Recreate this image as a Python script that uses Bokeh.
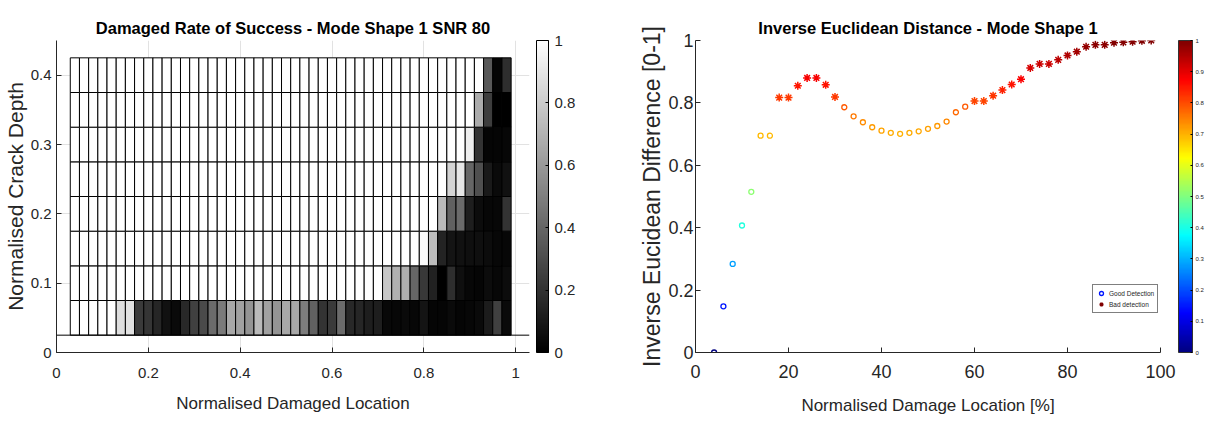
from bokeh.plotting import figure
from bokeh.layouts import row
from bokeh.models import (ColumnDataSource, LinearColorMapper, ColorBar, FixedTicker,
                          CustomJSTickFormatter, Span, Legend, LegendItem, Range1d)
from bokeh.transform import transform
from bokeh.palettes import Greys256
from bokeh.embed import file_html
from bokeh.resources import INLINE

FONT = "Liberation Sans"
AX = "#262626"

# ---------------- Left chart data: damaged rate of success ----------------
locations = [0.04, 0.06, 0.08, 0.10, 0.12, 0.14, 0.16, 0.18, 0.20, 0.22, 0.24, 0.26,
             0.28, 0.30, 0.32, 0.34, 0.36, 0.38, 0.40, 0.42, 0.44, 0.46, 0.48, 0.50,
             0.52, 0.54, 0.56, 0.58, 0.60, 0.62, 0.64, 0.66, 0.68, 0.70, 0.72, 0.74,
             0.76, 0.78, 0.80, 0.82, 0.84, 0.86, 0.88, 0.90, 0.92, 0.94, 0.96, 0.98]
depths = [0.05, 0.10, 0.15, 0.20, 0.25, 0.30, 0.35, 0.40]

rate_depth_005 = [1, 1, 1, 1, 1, 0.87, 0.88, 0.23, 0.21, 0.15, 0.07, 0.04,
                  0.16, 0.25, 0.29, 0.42, 0.48, 0.66, 0.63, 0.58, 0.73, 0.63, 0.58, 0.66,
                  0.66, 0.49, 0.38, 0.20, 0.23, 0.42, 0.16, 0.15, 0.12, 0.12, 0.035, 0.03,
                  0.04, 0.03, 0.08, 0.02, 0.02, 0.04, 0.02, 0.03, 0.04, 0.11, 0.25, 0.04]
rate_depth_010 = [1, 1, 1, 1, 1, 1, 1, 1, 1, 1, 1, 1,
                  1, 1, 1, 1, 1, 1, 1, 1, 1, 1, 1, 1,
                  1, 1, 1, 1, 1, 1, 1, 1, 1, 1, 0.78, 0.69,
                  0.68, 0.40, 0.22, 0.13, 0.0, 0.18, 0.06, 0.03, 0.02, 0.05, 0.03, 0.05]
rate_depth_015 = [1, 1, 1, 1, 1, 1, 1, 1, 1, 1, 1, 1,
                  1, 1, 1, 1, 1, 1, 1, 1, 1, 1, 1, 1,
                  1, 1, 1, 1, 1, 1, 1, 1, 1, 1, 1, 1,
                  1, 1, 0.98, 0.74, 0.14, 0.08, 0.07, 0.06, 0.06, 0.05, 0.03, 0.03]
rate_depth_020 = [1, 1, 1, 1, 1, 1, 1, 1, 1, 1, 1, 1,
                  1, 1, 1, 1, 1, 1, 1, 1, 1, 1, 1, 1,
                  1, 1, 1, 1, 1, 1, 1, 1, 1, 1, 1, 1,
                  1, 1, 1, 1, 0.73, 0.38, 0.42, 0.12, 0.05, 0.03, 0.03, 0.20]
rate_depth_025 = [1, 1, 1, 1, 1, 1, 1, 1, 1, 1, 1, 1,
                  1, 1, 1, 1, 1, 1, 1, 1, 1, 1, 1, 1,
                  1, 1, 1, 1, 1, 1, 1, 1, 1, 1, 1, 1,
                  1, 1, 1, 1, 1, 0.83, 0.90, 0.40, 0.31, 0.10, 0.04, 0.07]
rate_depth_030 = [1, 1, 1, 1, 1, 1, 1, 1, 1, 1, 1, 1,
                  1, 1, 1, 1, 1, 1, 1, 1, 1, 1, 1, 1,
                  1, 1, 1, 1, 1, 1, 1, 1, 1, 1, 1, 1,
                  1, 1, 1, 1, 1, 1, 1, 0.93, 0.20, 0.02, 0.02, 0.03]
rate_depth_035 = [1, 1, 1, 1, 1, 1, 1, 1, 1, 1, 1, 1,
                  1, 1, 1, 1, 1, 1, 1, 1, 1, 1, 1, 1,
                  1, 1, 1, 1, 1, 1, 1, 1, 1, 1, 1, 1,
                  1, 1, 1, 1, 1, 1, 1, 1, 0.67, 0.24, 0.0, 0.0]
rate_depth_040 = [1, 1, 1, 1, 1, 1, 1, 1, 1, 1, 1, 1,
                  1, 1, 1, 1, 1, 1, 1, 1, 1, 1, 1, 1,
                  1, 1, 1, 1, 1, 1, 1, 1, 1, 1, 1, 1,
                  1, 1, 1, 1, 1, 1, 1, 1, 1, 0.35, 0.02, 0.18]
rate_rows = [rate_depth_005, rate_depth_010, rate_depth_015, rate_depth_020,
             rate_depth_025, rate_depth_030, rate_depth_035, rate_depth_040]

left_xticks = [0, 0.2, 0.4, 0.6, 0.8, 1]
left_yticks = [0, 0.1, 0.2, 0.3, 0.4]
left_cticks = [0, 0.2, 0.4, 0.6, 0.8, 1]

# ---------------- Right chart data: inverse Euclidean distance ----------------
damage_location = [4, 6, 8, 10, 12, 14, 16, 18, 20, 22, 24, 26, 28, 30, 32, 34,
                   36, 38, 40, 42, 44, 46, 48, 50, 52, 54, 56, 58, 60, 62, 64, 66,
                   68, 70, 72, 74, 76, 78, 80, 82, 84, 86, 88, 90, 92, 94, 96, 98]
inv_distance = [0.0, 0.148, 0.284, 0.407, 0.515, 0.695, 0.695, 0.817, 0.817, 0.855, 0.880, 0.880,
                0.858, 0.819, 0.786, 0.757, 0.738, 0.722, 0.711, 0.704, 0.701, 0.704, 0.709, 0.717,
                0.726, 0.740, 0.770, 0.788, 0.806, 0.806, 0.823, 0.841, 0.859, 0.876, 0.912, 0.925,
                0.925, 0.938, 0.952, 0.964, 0.980, 0.986, 0.986, 0.993, 0.994, 0.996, 0.999, 1.0]
detection = [
    "good", "good", "good", "good", "good", "good", "good",
    "bad", "bad", "bad", "bad", "bad", "bad", "bad",
    "good", "good", "good", "good", "good", "good", "good",
    "good", "good", "good", "good", "good", "good", "good",
    "bad", "bad", "bad", "bad", "bad", "bad", "bad", "bad", "bad", "bad",
    "bad", "bad", "bad", "bad", "bad", "bad", "bad", "bad", "bad", "bad"]

right_xticks = [0, 20, 40, 60, 80, 100]
right_yticks = [0, 0.2, 0.4, 0.6, 0.8, 1]
right_cticks = [0, 0.1, 0.2, 0.3, 0.4, 0.5, 0.6, 0.7, 0.8, 0.9, 1]


def jet_palette(n=256):
    pal = []
    for k in range(n):
        t = k / (n - 1)
        r = min(max(1.5 - abs(4 * t - 3), 0), 1)
        g = min(max(1.5 - abs(4 * t - 2), 0), 1)
        b = min(max(1.5 - abs(4 * t - 1), 0), 1)
        pal.append("#%02x%02x%02x" % (int(round(r * 255)), int(round(g * 255)), int(round(b * 255))))
    return pal


fmt = CustomJSTickFormatter(code="return String(Math.round(tick*1000)/1000);")


def style_axes(p, tick_size, xlabel_size, ylabel_size):
    for ax in (p.xaxis[0], p.yaxis[0]):
        ax.axis_line_color = AX
        ax.major_tick_line_color = AX
        ax.major_tick_in = 5
        ax.major_tick_out = 0
        ax.minor_tick_line_color = None
        ax.major_label_text_color = AX
        ax.major_label_text_font = FONT
        ax.major_label_text_font_size = tick_size
        ax.axis_label_text_color = AX
        ax.axis_label_text_font = FONT
        ax.axis_label_text_font_style = "normal"
        ax.formatter = fmt
    p.xaxis[0].axis_label_text_font_size = xlabel_size
    p.yaxis[0].axis_label_text_font_size = ylabel_size


def style_title(p, text):
    p.title.text = text
    p.title.align = "center"
    p.title.text_font = FONT
    p.title.text_font_size = "16.5px"
    p.title.text_font_style = "bold"
    p.title.text_color = "black"
    p.title.standoff = 7


# ---------------- Left figure ----------------
p1 = figure(width=598, height=418, output_backend="svg", toolbar_location=None,
            x_range=Range1d(0, 1.03), y_range=Range1d(0, 0.45),
            min_border_left=55, min_border_right=69, min_border_top=40, min_border_bottom=66,
            x_axis_label="Normalised Damaged Location", y_axis_label="Normalised Crack Depth")
p1.outline_line_color = None
style_title(p1, "Damaged Rate of Success - Mode Shape 1 SNR 80")
style_axes(p1, "15px", "17px", "21px")
p1.xaxis[0].ticker = FixedTicker(ticks=left_xticks)
p1.yaxis[0].ticker = FixedTicker(ticks=left_yticks)
p1.xaxis[0].major_label_standoff = 15
p1.yaxis[0].major_label_standoff = 5
p1.xaxis[0].axis_label_standoff = 13
p1.yaxis[0].axis_label_standoff = 1
p1.xgrid[0].ticker = FixedTicker(ticks=left_xticks)
p1.ygrid[0].ticker = FixedTicker(ticks=left_yticks)
p1.grid.grid_line_color = "#e2e2e2"

cell_x, cell_y, cell_v = [], [], []
for d, vals in zip(depths, rate_rows):
    for loc, v in zip(locations, vals):
        cell_x.append(loc)
        cell_y.append(d)
        cell_v.append(v)
src1 = ColumnDataSource(dict(x=cell_x, y=cell_y, v=cell_v))
grey_mapper = LinearColorMapper(palette=Greys256, low=0, high=1)
p1.rect(x="x", y="y", width=0.02, height=0.05, source=src1,
        fill_color=transform("v", grey_mapper), line_color="black", line_width=1)
p1.add_layout(Span(location=0.025, dimension="width", line_color="black", line_width=1))

cb1 = ColorBar(color_mapper=grey_mapper, width=12, height=312, padding=0, margin=0,
               location=(480, 0),
               ticker=FixedTicker(ticks=left_cticks), formatter=fmt,
               major_label_text_font=FONT, major_label_text_font_size="15px",
               major_label_text_color=AX, bar_line_color="black", bar_line_width=1,
               major_tick_line_color="black", major_tick_in=3, major_tick_out=0,
               label_standoff=6, background_fill_alpha=0, border_line_color=None)
p1.add_layout(cb1)

# ---------------- Right figure ----------------
p2 = figure(width=610, height=418, output_backend="svg", toolbar_location=None,
            x_range=Range1d(0, 100), y_range=Range1d(0, 1),
            min_border_left=97, min_border_right=48, min_border_top=40, min_border_bottom=66,
            x_axis_label="Normalised Damage Location [%]",
            y_axis_label="Inverse Eucidean Difference [0-1]")
p2.outline_line_color = None
style_title(p2, "Inverse Euclidean Distance - Mode Shape 1")
style_axes(p2, "18px", "17px", "23px")
p2.xaxis[0].ticker = FixedTicker(ticks=right_xticks)
p2.yaxis[0].ticker = FixedTicker(ticks=right_yticks)
p2.xaxis[0].major_label_standoff = 12
p2.yaxis[0].major_label_standoff = 2
p2.xaxis[0].axis_label_standoff = 15
p2.yaxis[0].axis_label_standoff = 0
p2.grid.grid_line_color = None

jet_mapper = LinearColorMapper(palette=jet_palette(), low=0, high=1)
gx = [x for x, d in zip(damage_location, detection) if d == "good"]
gy = [y for y, d in zip(inv_distance, detection) if d == "good"]
bx = [x for x, d in zip(damage_location, detection) if d == "bad"]
by = [y for y, d in zip(inv_distance, detection) if d == "bad"]
src_good = ColumnDataSource(dict(x=gx, y=gy))
src_bad = ColumnDataSource(dict(x=bx, y=by))
r_good = p2.scatter(x="x", y="y", source=src_good, marker="circle", size=5,
                    fill_color=None, line_color=transform("y", jet_mapper), line_width=1.3)
r_bad = p2.scatter(x="x", y="y", source=src_bad, marker="asterisk", size=8,
                   line_color=transform("y", jet_mapper), line_width=1.5)

legend = Legend(items=[LegendItem(label="Good Detection", renderers=[r_good], index=1),
                       LegendItem(label="Bad detection", renderers=[r_bad], index=len(bx) - 1)],
                location=(397, 39), label_text_font=FONT, label_text_font_size="6.5px",
                label_text_color=AX, glyph_width=10, glyph_height=10, label_height=10,
                spacing=1, padding=3, margin=0, label_standoff=3,
                border_line_color="black", border_line_width=1)
p2.add_layout(legend)

cb2 = ColorBar(color_mapper=jet_mapper, width=14, height=312, padding=0, margin=0,
               location=(483, 0),
               ticker=FixedTicker(ticks=right_cticks), formatter=fmt,
               major_label_text_font=FONT, major_label_text_font_size="6px",
               major_label_text_color=AX, bar_line_color="#333333", bar_line_width=1,
               major_tick_line_color="black", major_tick_in=2, major_tick_out=0,
               label_standoff=3, background_fill_alpha=0, border_line_color=None)
p2.add_layout(cb2)

layout = row(p1, p2)
open("out.html", "w").write(file_html(layout, INLINE))
